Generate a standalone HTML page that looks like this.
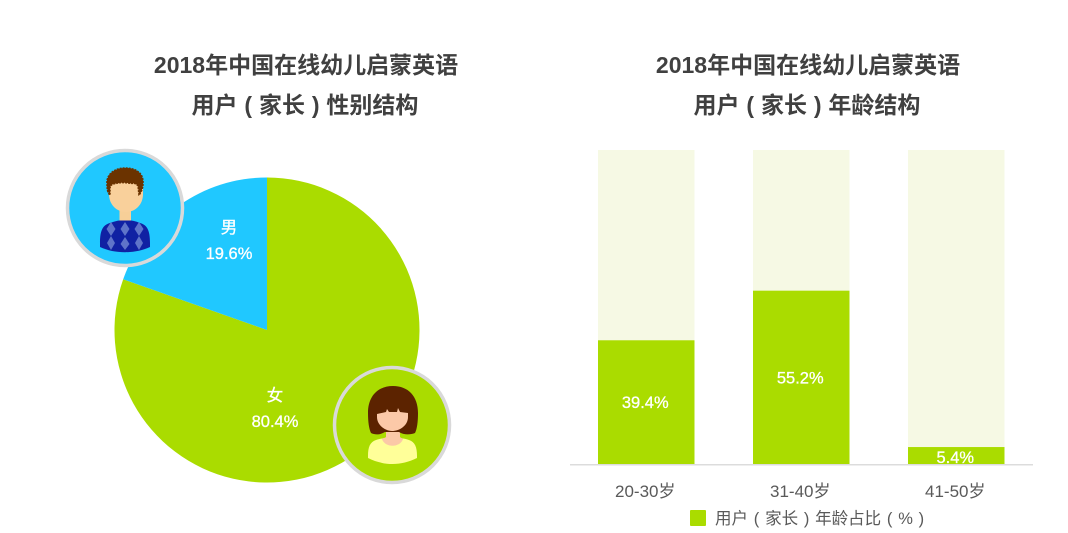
<!DOCTYPE html>
<html lang="zh">
<head>
<meta charset="utf-8">
<title>2018年中国在线幼儿启蒙英语用户结构</title>
<style>
html,body{margin:0;padding:0;background:#fff;width:1068px;height:533px;overflow:hidden}
svg{display:block}
text{font-family:"Liberation Sans","Noto Sans CJK SC",sans-serif}
.title{font-size:23px;font-weight:700;fill:#404040;text-anchor:middle;word-spacing:.5px}
.val{font-size:16.5px;fill:#fff;stroke:#fff;stroke-width:.3;text-anchor:middle}
.tick{font-size:17px;fill:#595959;text-anchor:middle}
</style>
</head>
<body>
<svg id="chart" width="1068" height="533" viewBox="0 0 1068 533" xmlns="http://www.w3.org/2000/svg">
  <text class="title" x="306" y="73">2018年中国在线幼儿启蒙英语</text>
  <text class="title" x="305" y="113">用户 ( 家长 ) 性别结构</text>
  <text class="title" x="808" y="73">2018年中国在线幼儿启蒙英语</text>
  <text class="title" x="807" y="113">用户 ( 家长 ) 年龄结构</text>
  <g id="pie"></g>
  <g id="bars"></g>

  <g>
    <circle cx="125" cy="208" r="57.5" fill="#20c8ff" stroke="#d9d9d9" stroke-width="3.5"/>
    <path d="M100 243c0-13 3-18 10-20 5-2 10-3 15-3s10 1 15 3c7 2 10 7 10 20v4c-15 7-35 7-50 0z" fill="#1021a3"/>
    <g fill="#5f74c9">
      <path d="M111 222l4.500 7-4.500 7-4.500-7z"/><path d="M125 222l4.500 7-4.500 7-4.500-7z"/><path d="M139 222l4.500 7-4.500 7-4.500-7z"/>
      <path d="M111 236l4 7-4 7-4-7z"/><path d="M125 237l4.500 7-4.500 6-4.500-6z"/><path d="M139 236l4 7-4 7-4-7z"/>
    </g>
    <rect x="119.500" y="205" width="11.500" height="15.500" fill="#f7cf98"/>
    <path d="M109 180h34v14c0 11-8 18-17 18s-17-7-17-18z" fill="#f9d09b"/>
    <path d="M108 192c-1-3-1-5-1-8-1-9 7-16 18-16 12 0 19 6 18 16 0 3-1 6-2 8-1 1-1 3-2 3l-1-9c-3-4-5-2-10-3-6-1-10 0-15 1-2 1-3 2-3 5l0 6c-1 0-1-2-2-3z" fill="#6b3300" stroke="#6b3300" stroke-width="1.500" stroke-dasharray="2 1"/>
  </g>

  <g>
    <circle cx="392" cy="425" r="57.5" fill="#aadc00" stroke="#d9d9d9" stroke-width="3.5"/>
    <path d="M368 456c0-9 2-14 8-16 5-2 10-2 16-2 7 0 12 0 17 2 6 2 8 7 8 16v2c-16 8-33 8-49 0z" fill="#ffff99"/>
    <path d="M386 425h14v12c1 1 2 1 3 2-3 9-18 9-21 0 1-1 3-1 4-2z" fill="#fbc9a7"/>
    <path d="M368 413c0-17 10-27 25-27s25 10 25 27c0 9-1 16-3 20-5 2-11 2-16-1h-14c-5 3-10 3-14 1-2-4-3-11-3-20z" fill="#5c2300"/>
    <path d="M377 414l9-2 1-3 2 3 8 0 1-4 2 4 8 1c0 2 0 3 0 4 0 9-9 14-16 14s-15-6-15-14z" fill="#fcc9a8"/>
  </g>

  <rect x="690" y="510" width="16" height="16" rx="1" fill="#aadc00"/>
  <text x="715" y="524" font-size="16.5" fill="#595959" word-spacing="1.2">用户 ( 家长 ) 年龄占比 ( % )</text>
</svg>
<script>
var pieCategories = ['女', '男'];
var pieValues = [80.4, 19.6];
var pieLabels = ['80.4%', '19.6%'];
var barCategories = ['20-30岁', '31-40岁', '41-50岁'];
var barValues = [39.4, 55.2, 5.4];
var barLabels = ['39.4%', '55.2%', '5.4%'];

var NS = 'http://www.w3.org/2000/svg';
function mk(parent, tag, attrs, text) {
  var el = document.createElementNS(NS, tag);
  for (var k in attrs) el.setAttribute(k, attrs[k]);
  if (text !== undefined) el.textContent = text;
  parent.appendChild(el);
  return el;
}

// Pie
var pieG = document.getElementById('pie');
var pieColors = ['#aadc00', '#20c8ff'];
var cx = 267, cy = 330, R = 152.5;
var labelPos = [[275, 396, 428], [229, 228, 260]];
var pieTotal = pieValues.reduce(function (a, b) { return a + b; }, 0);
function angleOf(v) { return v / pieTotal * Math.PI * 2; }
function polar(a, r) { return [cx + r * Math.sin(a), cy - r * Math.cos(a)]; }
var startA = 0;
pieValues.forEach(function (v, i) {
  var endA = startA + angleOf(v);
  var p0 = polar(startA, R), p1 = polar(endA, R);
  var large = endA - startA > Math.PI ? 1 : 0;
  var slice = mk(pieG, 'path', {
    d: 'M' + cx + ' ' + cy + 'L' + p0[0] + ' ' + p0[1] + 'A' + R + ' ' + R + ' 0 ' + large + ' 1 ' + p1[0] + ' ' + p1[1] + 'Z',
    fill: pieColors[i]
  });
  
  
  var cat = mk(pieG, 'text', { 'class': 'val', x: labelPos[i][0], y: labelPos[i][1] + 5 }, pieCategories[i]);
  
  
  var val = mk(pieG, 'text', { 'class': 'val', x: labelPos[i][0], y: labelPos[i][2] - 1 }, pieLabels[i]);
  
  
  startA = endA;
});

// Bars
var barsG = document.getElementById('bars');
var baseY = 464, topY = 150, barW = 96.5, firstX = 598, stepX = 155;
function yScale(v) { return baseY - v / 100 * (baseY - topY); }
function xScale(i) { return firstX + i * stepX; }
barValues.forEach(function (v, i) {
  var x = xScale(i), y = yScale(v);
  var bg = mk(barsG, 'rect', { x: x, y: topY, width: barW, height: baseY - topY, fill: '#f6f9e4' });
  
  
  var bar = mk(barsG, 'rect', { x: x, y: y, width: barW, height: baseY - y, fill: '#aadc00' });
  
  
  var lblY = v < 10 ? y + 16 : (y + baseY) / 2 + 6;
  var lbl = mk(barsG, 'text', { 'class': 'val', x: x + barW / 2 - 1, y: lblY }, barLabels[i]);
  
  
  var tick = mk(barsG, 'text', { 'class': 'tick', x: x + barW / 2 - 1, y: 497 }, barCategories[i]);
  
  
});
var axis = mk(barsG, 'rect', { x: 570, y: 464, width: 463, height: 1.5, fill: '#dcdcdc' });


</script>
</body>
</html>
